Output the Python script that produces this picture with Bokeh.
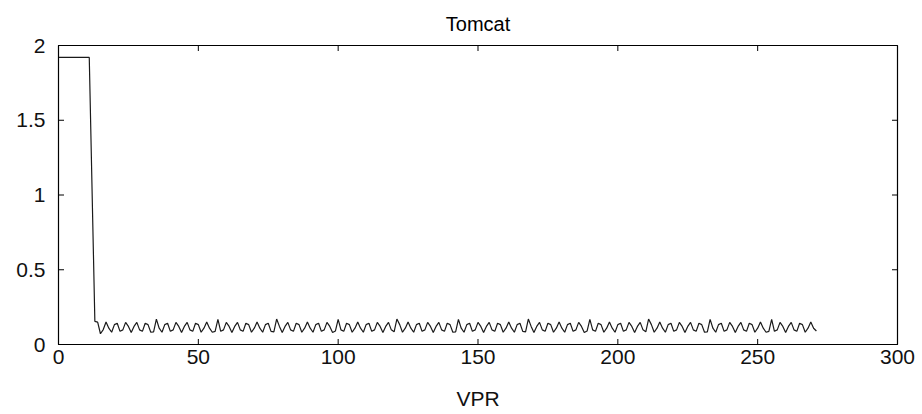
from bokeh.plotting import figure
from bokeh.models import CustomJSTickFormatter, FixedTicker, Range1d
from bokeh.embed import file_html
from bokeh.resources import INLINE

title_text = "Tomcat"
x_label = "VPR"
x_ticks = [0, 50, 100, 150, 200, 250, 300]
y_ticks = [0, 0.5, 1, 1.5, 2]
x_min, x_max = 0, 300
y_min, y_max = 0, 2

# VPR sample positions (sample 12 is absent from the record)
vpr = list(range(0, 12)) + list(range(13, 272))

plateau = [1.92] * 12
drop = [0.155, 0.150, 0.072, 0.100]
osc = [
    0.150, 0.109, 0.082, 0.133, 0.142, 0.088, 0.098, 0.148, 0.121, 0.080, 0.121, 0.148, 0.098, 0.088, 0.142, 0.133, 0.082, 0.085,
    0.170, 0.109, 0.082, 0.133, 0.142, 0.088, 0.098, 0.148, 0.121, 0.080, 0.121, 0.148, 0.098, 0.088, 0.142, 0.133, 0.082, 0.109,
    0.150, 0.109, 0.082, 0.088, 0.168, 0.088, 0.098, 0.148, 0.121, 0.080, 0.121, 0.148, 0.098, 0.088, 0.142, 0.133, 0.082, 0.109,
    0.150, 0.109, 0.082, 0.133, 0.142, 0.088, 0.085, 0.170, 0.121, 0.080, 0.121, 0.148, 0.098, 0.088, 0.142, 0.133, 0.082, 0.109,
    0.150, 0.109, 0.082, 0.133, 0.142, 0.088, 0.098, 0.148, 0.121, 0.080, 0.090, 0.168, 0.098, 0.088, 0.142, 0.133, 0.082, 0.109,
    0.150, 0.109, 0.082, 0.133, 0.142, 0.088, 0.098, 0.148, 0.121, 0.080, 0.121, 0.148, 0.098, 0.085, 0.170, 0.133, 0.082, 0.109,
    0.150, 0.109, 0.082, 0.133, 0.142, 0.088, 0.098, 0.148, 0.121, 0.080, 0.121, 0.148, 0.098, 0.088, 0.142, 0.133, 0.082, 0.085,
    0.168, 0.109, 0.082, 0.133, 0.142, 0.088, 0.098, 0.148, 0.121, 0.080, 0.121, 0.148, 0.098, 0.088, 0.142, 0.133, 0.082, 0.109,
    0.150, 0.109, 0.082, 0.133, 0.142, 0.088, 0.085, 0.170, 0.121, 0.080, 0.121, 0.148, 0.098, 0.088, 0.142, 0.133, 0.082, 0.109,
    0.150, 0.109, 0.082, 0.133, 0.142, 0.088, 0.098, 0.148, 0.121, 0.080, 0.090, 0.168, 0.098, 0.088, 0.142, 0.133, 0.082, 0.109,
    0.150, 0.109, 0.082, 0.133, 0.142, 0.088, 0.098, 0.148, 0.121, 0.080, 0.121, 0.148, 0.098, 0.085, 0.170, 0.133, 0.082, 0.109,
    0.150, 0.109, 0.082, 0.133, 0.142, 0.088, 0.098, 0.148, 0.121, 0.080, 0.121, 0.148, 0.098, 0.088, 0.142, 0.133, 0.082, 0.085,
    0.168, 0.109, 0.082, 0.133, 0.142, 0.088, 0.098, 0.148, 0.121, 0.080, 0.121, 0.148, 0.098, 0.088, 0.142, 0.133, 0.082, 0.109,
    0.150, 0.109, 0.082, 0.088, 0.168, 0.088, 0.098, 0.148, 0.121, 0.080, 0.121, 0.148, 0.098, 0.088, 0.142, 0.133, 0.082, 0.109,
    0.150, 0.109, 0.090,
]
values = plateau + drop + osc

FONT = "Liberation Sans"

p = figure(frame_width=839, frame_height=299,
           x_range=Range1d(x_min, x_max), y_range=Range1d(y_min, y_max),
           output_backend="svg", toolbar_location=None,
           min_border_left=58, min_border_right=25,
           min_border_top=45, min_border_bottom=70,
           title=title_text)
p.background_fill_color = "white"
p.border_fill_color = "white"
p.grid.visible = False
p.outline_line_color = "black"
p.outline_line_width = 1.2

p.title.align = "center"
p.title.text_font = FONT
p.title.text_font_style = "normal"
p.title.text_font_size = "20px"
p.title.text_color = "black"
p.title.standoff = 21

fmt = CustomJSTickFormatter(code="return tick.toString();")

for ax in (p.xaxis[0], p.yaxis[0]):
    ax.major_tick_in = 0
    ax.major_tick_out = 0
    ax.minor_tick_line_color = None
    ax.axis_line_color = "black"
    ax.major_label_text_font = FONT
    ax.major_label_text_font_size = "21px"
    ax.major_label_text_color = "#111111"
    ax.formatter = fmt

p.xaxis[0].ticker = FixedTicker(ticks=x_ticks)
p.yaxis[0].ticker = FixedTicker(ticks=y_ticks)
p.xaxis[0].major_label_standoff = 5
p.yaxis[0].major_label_standoff = 13
p.xaxis[0].axis_label = x_label
p.xaxis[0].axis_label_text_font = FONT
p.xaxis[0].axis_label_text_font_size = "21px"
p.xaxis[0].axis_label_text_font_style = "normal"
p.xaxis[0].axis_label_text_color = "#111111"
p.xaxis[0].axis_label_standoff = 20

# inward tick marks on all four sides (clipped to the frame, so only the inner half shows)
p.scatter(x_ticks, [y_min] * len(x_ticks), marker="dash", angle=1.5708, size=11,
          line_color="black", line_width=1)
p.scatter(x_ticks, [y_max] * len(x_ticks), marker="dash", angle=1.5708, size=11,
          line_color="black", line_width=1)
p.scatter([x_min] * len(y_ticks), y_ticks, marker="dash", size=11,
          line_color="black", line_width=1)
p.scatter([x_max] * len(y_ticks), y_ticks, marker="dash", size=11,
          line_color="black", line_width=1)

p.line(vpr, values, line_color="#1a1a1a", line_width=1.2)

open("out.html", "w").write(file_html(p, INLINE))
